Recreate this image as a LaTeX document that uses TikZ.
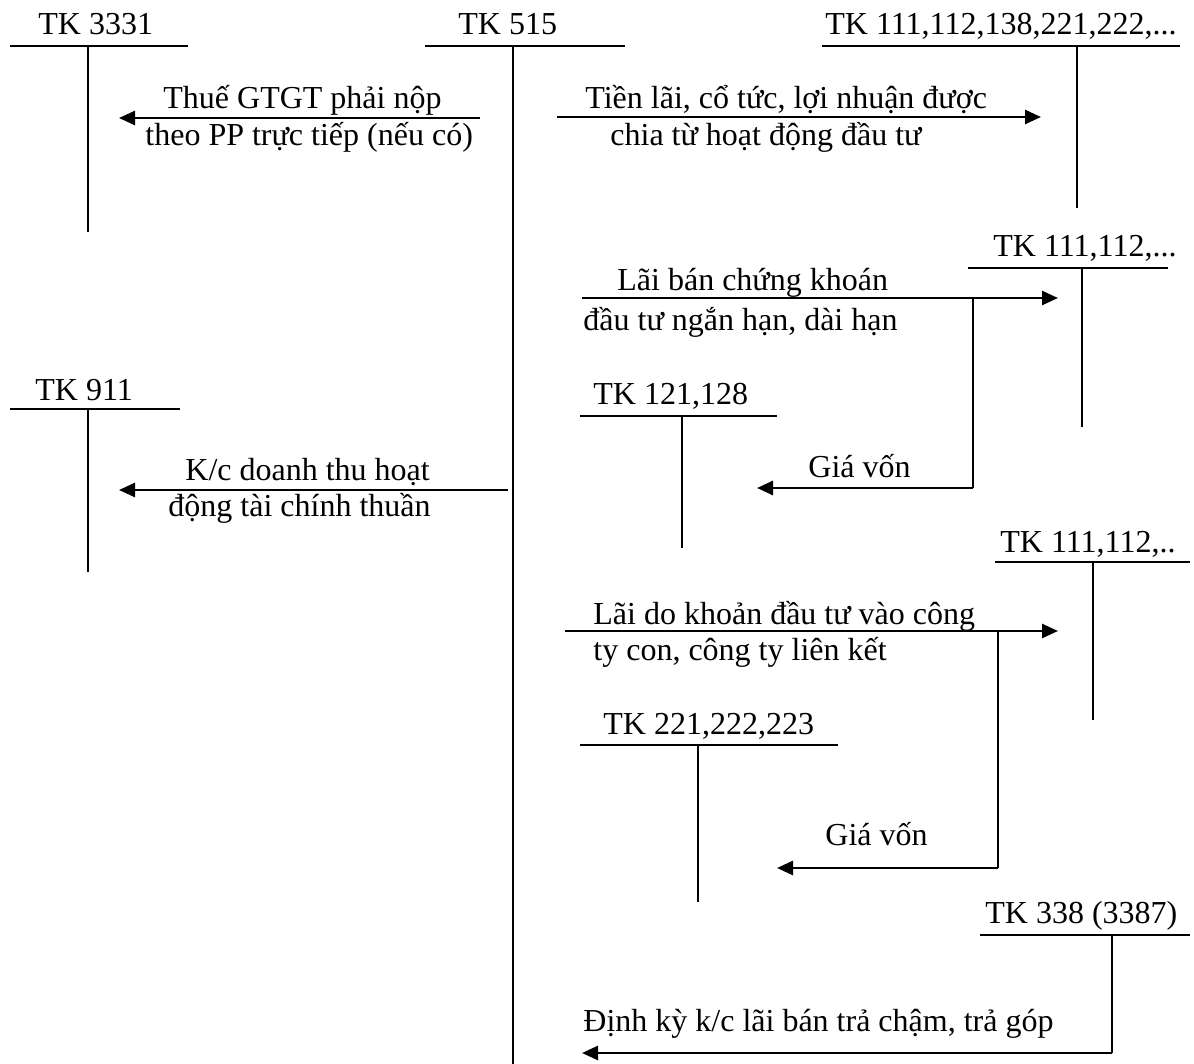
\documentclass[tikz,border=0pt]{standalone}
\usepackage{fontspec}
\setmainfont{Liberation Serif}
\usetikzlibrary{arrows.meta}
\begin{document}
\begin{tikzpicture}[x=0.5pt,y=-0.5pt,
  lbl/.style={anchor=base west,inner sep=0pt,font=\fontsize{16}{19}\selectfont},
  tline/.style={line width=0.9pt},
  flow/.style={line width=1.3pt,-{Triangle[length=8pt,width=7pt]}},
  riser/.style={line width=1.3pt}]
\useasboundingbox[fill=white] (0,0) rectangle (1194,1064);
% ---------- T accounts ----------
% TK 3331
\node[lbl] (n3331) at (38,35) {TK 3331};
\coordinate (c3331L) at (10,46); \coordinate (c3331R) at (188,46);
\coordinate (c3331T) at (88,46); \coordinate (c3331B) at (88,232);
\draw[tline] (c3331L) -- (c3331R); \draw[tline] (c3331T) -- (c3331B);
% TK 515
\node[lbl] (n515) at (458,35) {TK 515};
\coordinate (c515L) at (425,46); \coordinate (c515R) at (625,46);
\coordinate (c515T) at (513,46); \coordinate (c515B) at (513,1064);
\draw[tline] (c515L) -- (c515R); \draw[tline] (c515T) -- (c515B);
% TK 111,112,138,...
\node[lbl] (nA) at (825,35) {TK 111,112,138,221,222,...};
\coordinate (cAL) at (822,46); \coordinate (cAR) at (1180,46);
\coordinate (cAT) at (1077,46); \coordinate (cAB) at (1077,208);
\draw[tline] (cAL) -- (cAR); \draw[tline] (cAT) -- (cAB);
% TK 111,112,... (2)
\node[lbl] (nB) at (993,257) {TK 111,112,...};
\coordinate (cBL) at (968,268); \coordinate (cBR) at (1168,268);
\coordinate (cBT) at (1082,268); \coordinate (cBB) at (1082,427);
\draw[tline] (cBL) -- (cBR); \draw[tline] (cBT) -- (cBB);
% TK 121,128
\node[lbl] (nC) at (593,404) {TK 121,128};
\coordinate (cCL) at (580,416); \coordinate (cCR) at (777,416);
\coordinate (cCT) at (682,416); \coordinate (cCB) at (682,548);
\draw[tline] (cCL) -- (cCR); \draw[tline] (cCT) -- (cCB);
% TK 911
\node[lbl] (n911) at (35,400) {TK 911};
\coordinate (c911L) at (10,409); \coordinate (c911R) at (180,409);
\coordinate (c911T) at (88,409); \coordinate (c911B) at (88,572);
\draw[tline] (c911L) -- (c911R); \draw[tline] (c911T) -- (c911B);
% TK 111,112,.. (3)
\node[lbl] (nD) at (1000,552) {TK 111,112,..};
\coordinate (cDL) at (995,562); \coordinate (cDR) at (1190,562);
\coordinate (cDT) at (1093,562); \coordinate (cDB) at (1093,720);
\draw[tline] (cDL) -- (cDR); \draw[tline] (cDT) -- (cDB);
% TK 221,222,223
\node[lbl] (nE) at (603,734) {TK 221,222,223};
\coordinate (cEL) at (580,745); \coordinate (cER) at (838,745);
\coordinate (cET) at (698,745); \coordinate (cEB) at (698,902);
\draw[tline] (cEL) -- (cER); \draw[tline] (cET) -- (cEB);
% TK 338 (3387)
\node[lbl] (nF) at (985,923) {TK 338 (3387)};
\coordinate (cFL) at (980,935); \coordinate (cFR) at (1190,935);
\coordinate (cFT) at (1112,935); \coordinate (cFB) at (1112,1053);
\draw[tline] (cFL) -- (cFR); \draw[tline] (cFT) -- (cFB);
% ---------- Flows ----------
% 1 Thue GTGT
\coordinate (f1s) at (480,118); \coordinate (f1e) at (119,118);
\draw[flow] (f1s) -- (f1e);
\node[lbl] (t1a) at (163,109) {Thuế GTGT phải nộp};
\node[lbl] (t1b) at (145,146) {theo PP trực tiếp (nếu có)};
% 2 Tien lai
\coordinate (f2s) at (557,117); \coordinate (f2e) at (1041,117);
\draw[flow] (f2s) -- (f2e);
\node[lbl] (t2a) at (585,109) {Tiền lãi, cổ tức, lợi nhuận được};
\node[lbl] (t2b) at (610,146) {chia từ hoạt động đầu tư};
% 3 Lai ban chung khoan
\coordinate (f3s) at (582,298); \coordinate (f3e) at (1058,298);
\draw[flow] (f3s) -- (f3e);
\node[lbl] (t3a) at (617,291) {Lãi bán chứng khoán};
\node[lbl] (t3b) at (583,330) {đầu tư ngắn hạn, dài hạn};
% 4 Gia von 1
\coordinate (f4s) at (973,298); \coordinate (f4k) at (973,488); \coordinate (f4e) at (757,488);
\draw[riser] (f4s) -- (f4k); \draw[flow] (f4k) -- (f4e);
\node[lbl] (t4) at (808,477) {Giá vốn};
% 5 K/c
\coordinate (f5s) at (508,490); \coordinate (f5e) at (119,490);
\draw[flow] (f5s) -- (f5e);
\node[lbl] (t5a) at (185,480) {K/c doanh thu hoạt};
\node[lbl] (t5b) at (168,516) {động tài chính thuần};
% 6 Lai do khoan dau tu
\coordinate (f6s) at (565,631); \coordinate (f6e) at (1058,631);
\draw[flow] (f6s) -- (f6e);
\node[lbl] (t6a) at (593,624) {Lãi do khoản đầu tư vào công};
\node[lbl] (t6b) at (593,660) {ty con, công ty liên kết};
% 7 Gia von 2
\coordinate (f7s) at (998,631); \coordinate (f7k) at (998,868); \coordinate (f7e) at (777,868);
\draw[riser] (f7s) -- (f7k); \draw[flow] (f7k) -- (f7e);
\node[lbl] (t7) at (825,845) {Giá vốn};
% 8 Dinh ky
\coordinate (f8e) at (582,1053);
\draw[flow] (cFB) -- (f8e);
\node[lbl] (t8) at (583,1031) {Định kỳ k/c lãi bán trả chậm, trả góp};
\end{tikzpicture}
\end{document}
